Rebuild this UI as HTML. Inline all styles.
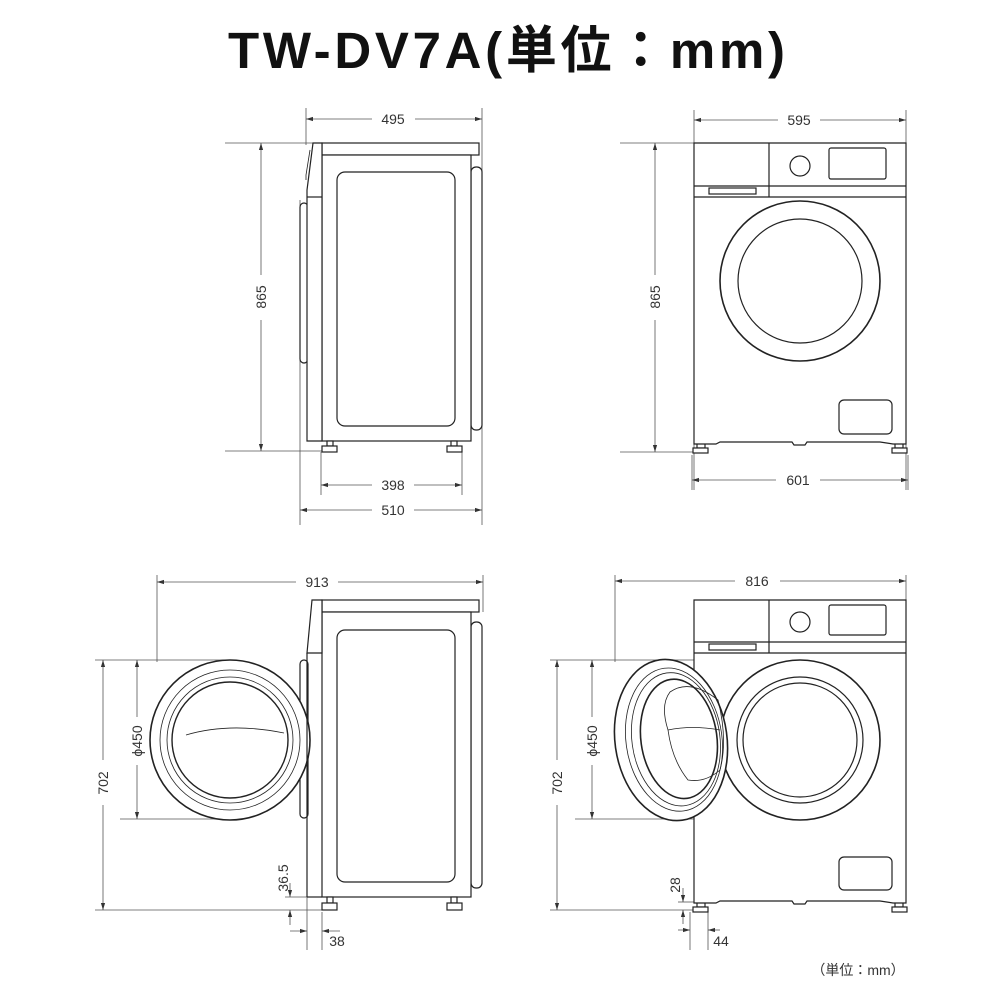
<!DOCTYPE html>
<html><head><meta charset="utf-8"><style>
html,body{margin:0;padding:0;background:#fff;width:1000px;height:1000px;overflow:hidden}
</style></head><body>
<svg width="1000" height="1000" viewBox="0 0 1000 1000" xmlns="http://www.w3.org/2000/svg" font-family="Liberation Sans, DejaVu Sans, sans-serif">
<defs>
<marker id="a" viewBox="0 0 10 10" refX="10" refY="5" markerWidth="7" markerHeight="7" orient="auto-start-reverse" markerUnits="userSpaceOnUse"><path d="M0,2 L10,5 L0,8 z" fill="#333"/></marker>
</defs>
<text x="228" y="68" textLength="557" lengthAdjust="spacing" font-size="51" font-weight="bold" font-family="Liberation Sans, Noto Sans CJK JP, sans-serif" fill="#111">TW-DV7A(単位：mm)</text>

<g stroke="#555" stroke-width="0.8" fill="none">
<line x1="306" y1="108" x2="306" y2="145"/>
<line x1="482" y1="108" x2="482" y2="525"/>
<line x1="300" y1="200" x2="300" y2="525"/>
<line x1="306" y1="119" x2="372" y2="119" marker-start="url(#a)"/>
<line x1="415" y1="119" x2="482" y2="119" marker-end="url(#a)"/>
<line x1="225" y1="143" x2="318" y2="143"/>
<line x1="225" y1="451" x2="322" y2="451"/>
<line x1="261" y1="143" x2="261" y2="275" marker-start="url(#a)"/>
<line x1="261" y1="320" x2="261" y2="451" marker-end="url(#a)"/>
<line x1="321" y1="452" x2="321" y2="495"/>
<line x1="462" y1="452" x2="462" y2="495"/>
<line x1="321" y1="485" x2="372" y2="485" marker-start="url(#a)"/>
<line x1="414" y1="485" x2="462" y2="485" marker-end="url(#a)"/>
<line x1="300" y1="510" x2="372" y2="510" marker-start="url(#a)"/>
<line x1="414" y1="510" x2="482" y2="510" marker-end="url(#a)"/>

<line x1="694" y1="110" x2="694" y2="490"/>
<line x1="906" y1="110" x2="906" y2="490"/>
<line x1="694" y1="120" x2="778" y2="120" marker-start="url(#a)"/>
<line x1="820" y1="120" x2="906" y2="120" marker-end="url(#a)"/>
<line x1="620" y1="143" x2="694" y2="143"/>
<line x1="620" y1="452" x2="694" y2="452"/>
<line x1="655" y1="143" x2="655" y2="275" marker-start="url(#a)"/>
<line x1="655" y1="320" x2="655" y2="452" marker-end="url(#a)"/>
<line x1="692" y1="480" x2="776" y2="480" marker-start="url(#a)"/>
<line x1="820" y1="480" x2="908" y2="480" marker-end="url(#a)"/>
<line x1="692" y1="455" x2="692" y2="490"/>
<line x1="908" y1="455" x2="908" y2="490"/>

<line x1="157" y1="575" x2="157" y2="662"/>
<line x1="483" y1="575" x2="483" y2="612"/>
<line x1="157" y1="582" x2="296" y2="582" marker-start="url(#a)"/>
<line x1="338" y1="582" x2="483" y2="582" marker-end="url(#a)"/>
<line x1="95" y1="660" x2="232" y2="660"/>
<line x1="95" y1="910" x2="322" y2="910"/>
<line x1="120" y1="819" x2="232" y2="819"/>
<line x1="103" y1="660" x2="103" y2="760" marker-start="url(#a)"/>
<line x1="103" y1="805" x2="103" y2="910" marker-end="url(#a)"/>
<line x1="137" y1="660" x2="137" y2="717" marker-start="url(#a)"/>
<line x1="137" y1="765" x2="137" y2="819" marker-end="url(#a)"/>
<line x1="285" y1="897" x2="307" y2="897"/>
<line x1="290" y1="883" x2="290" y2="897" marker-end="url(#a)"/>
<line x1="290" y1="925" x2="290" y2="910" marker-end="url(#a)"/>
<line x1="307" y1="897" x2="307" y2="950"/>
<line x1="322" y1="912" x2="322" y2="950"/>
<line x1="290" y1="931" x2="307" y2="931" marker-end="url(#a)"/>
<line x1="340" y1="931" x2="322" y2="931" marker-end="url(#a)"/>

<line x1="615" y1="575" x2="615" y2="662"/>
<line x1="906" y1="575" x2="906" y2="600"/>
<line x1="615" y1="581" x2="735" y2="581" marker-start="url(#a)"/>
<line x1="780" y1="581" x2="906" y2="581" marker-end="url(#a)"/>
<line x1="550" y1="660" x2="694" y2="660"/>
<line x1="550" y1="910" x2="694" y2="910"/>
<line x1="575" y1="819" x2="694" y2="819"/>
<line x1="557" y1="660" x2="557" y2="760" marker-start="url(#a)"/>
<line x1="557" y1="805" x2="557" y2="910" marker-end="url(#a)"/>
<line x1="592" y1="660" x2="592" y2="717" marker-start="url(#a)"/>
<line x1="592" y1="765" x2="592" y2="819" marker-end="url(#a)"/>
<line x1="678" y1="902" x2="694" y2="902"/>
<line x1="683" y1="888" x2="683" y2="902" marker-end="url(#a)"/>
<line x1="683" y1="924" x2="683" y2="910" marker-end="url(#a)"/>
<line x1="690" y1="912" x2="690" y2="950"/>
<line x1="708" y1="912" x2="708" y2="950"/>
<line x1="678" y1="930" x2="690" y2="930" marker-end="url(#a)"/>
<line x1="720" y1="930" x2="708" y2="930" marker-end="url(#a)"/>
</g>

<g font-size="14" fill="#333" text-anchor="middle">
<text x="393" y="124">495</text>
<text x="393" y="490">398</text>
<text x="393" y="515">510</text>
<text transform="translate(266,297) rotate(-90)">865</text>
<text x="799" y="125">595</text>
<text x="798" y="485">601</text>
<text transform="translate(660,297) rotate(-90)">865</text>
<text x="317" y="587">913</text>
<text x="757" y="586">816</text>
<text transform="translate(108,783) rotate(-90)">702</text>
<text transform="translate(142,741) rotate(-90)">ϕ450</text>
<text transform="translate(562,783) rotate(-90)">702</text>
<text transform="translate(597,741) rotate(-90)">ϕ450</text>
<text transform="translate(288,878) rotate(-90)">36.5</text>
<text x="337" y="946">38</text>
<text transform="translate(680,885) rotate(-90)">28</text>
<text x="721" y="946">44</text>
<text x="858" y="975" font-size="14" font-family="Liberation Sans, Noto Sans CJK JP, sans-serif">（単位：mm）</text>
</g>

<g stroke="#222" stroke-width="1.2" fill="#fff">
<rect x="471" y="167" width="11" height="263" rx="5"/>
<rect x="300" y="203" width="8" height="160" rx="4"/>
<rect x="322" y="143" width="157" height="12"/>
<rect x="322" y="155" width="149" height="286"/>
<rect x="337" y="172" width="118" height="254" rx="8"/>
<path d="M313,143 L322,143 L322,441 L307,441 L307,190 Z"/>
<line x1="307" y1="197" x2="322" y2="197"/>
<path d="M310,150 L306,175 L306,180" fill="none" stroke-width="0.8"/>
<rect x="327" y="441" width="6" height="5"/><rect x="322" y="446" width="15" height="6"/>
<rect x="451" y="441" width="6" height="5"/><rect x="447" y="446" width="15" height="6"/>

<rect x="697" y="442" width="8" height="6"/><rect x="693" y="448" width="15" height="5"/>
<rect x="895" y="442" width="8" height="6"/><rect x="892" y="448" width="15" height="5"/>
<path d="M694,143 L906,143 L906,444 L893,444 L880,442 L807,442 L805,445 L794,445 L792,442 L720,442 L716,444 L694,444 Z"/>
<line x1="694" y1="186" x2="906" y2="186"/>
<line x1="694" y1="197" x2="906" y2="197"/>
<line x1="769" y1="143" x2="769" y2="197"/>
<rect x="709" y="188" width="47" height="6"/>
<circle cx="800" cy="166" r="10"/>
<rect x="829" y="148" width="57" height="31" rx="2"/>
<circle cx="800" cy="281" r="80" stroke-width="1.6"/>
<circle cx="800" cy="281" r="62"/>
<rect x="839" y="400" width="53" height="34" rx="5"/>

<rect x="471" y="622" width="11" height="266" rx="5"/>
<rect x="300" y="660" width="8" height="158" rx="4"/>
<circle cx="230" cy="740" r="80" stroke-width="1.6"/>
<circle cx="230" cy="740" r="70" stroke-width="0.8"/>
<circle cx="230" cy="740" r="63" stroke-width="0.8"/>
<circle cx="230" cy="740" r="58" stroke-width="1.4"/>
<path d="M186,735 Q230,722 284,733" fill="none" stroke-width="0.8"/>
<rect x="322" y="600" width="157" height="12"/>
<rect x="322" y="612" width="149" height="285"/>
<rect x="337" y="630" width="118" height="252" rx="8"/>
<path d="M312,600 L322,600 L322,653 L307,653 Z"/>
<line x1="307" y1="653" x2="307" y2="897"/>
<line x1="307" y1="897" x2="322" y2="897"/>
<rect x="327" y="897" width="6" height="6"/><rect x="322" y="903" width="15" height="7"/>
<rect x="451" y="897" width="6" height="6"/><rect x="447" y="903" width="15" height="7"/>

<rect x="697" y="902" width="8" height="5"/><rect x="693" y="907" width="15" height="5"/>
<rect x="895" y="902" width="8" height="5"/><rect x="892" y="907" width="15" height="5"/>
<path d="M694,600 L906,600 L906,903 L893,903 L880,901 L807,901 L805,904 L794,904 L792,901 L720,901 L716,903 L694,903 Z"/>
<line x1="694" y1="642" x2="906" y2="642"/>
<line x1="694" y1="653" x2="906" y2="653"/>
<line x1="769" y1="600" x2="769" y2="653"/>
<rect x="709" y="644" width="47" height="6"/>
<circle cx="800" cy="622" r="10"/>
<rect x="829" y="605" width="57" height="30" rx="2"/>
<circle cx="800" cy="740" r="80" stroke-width="1.6"/>
<circle cx="800" cy="740" r="63"/>
<circle cx="800" cy="740" r="57"/>
<rect x="839" y="857" width="53" height="33" rx="5"/>
<g transform="rotate(-8 671 740)">
<ellipse cx="671" cy="740" rx="56" ry="81" stroke-width="1.6"/>
<ellipse cx="674" cy="740" rx="48" ry="72" stroke-width="0.8"/>
<ellipse cx="676" cy="740" rx="44" ry="67" stroke-width="0.8"/>
<ellipse cx="679" cy="740" rx="38" ry="60" stroke-width="1.6"/>
</g>
<path d="M670,692 Q690,678 718,700 Q728,740 720,770 Q705,783 688,780 Q672,760 668,730 Q660,705 670,692 Z" fill="none" stroke-width="0.8"/>
<path d="M668,730 Q692,725 720,730" fill="none" stroke-width="0.8"/>
</g>
</svg>
</body></html>
